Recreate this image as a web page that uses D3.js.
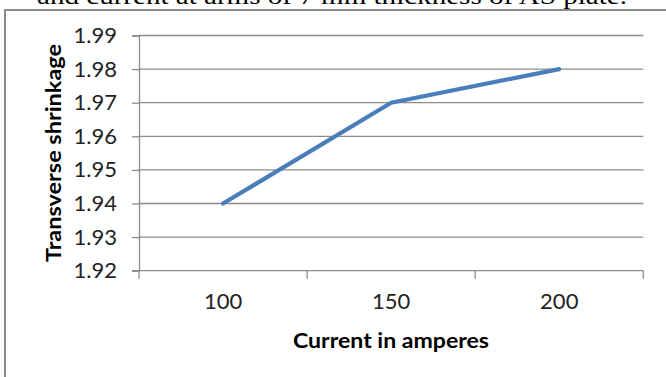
<!DOCTYPE html>
<html>
<head>
<meta charset="utf-8">
<script src="https://cdn.jsdelivr.net/npm/d3@7"></script>
<style>
  html, body { margin: 0; padding: 0; background: #fff; }
  svg { display: block; }
</style>
</head>
<body>
<svg id="chart" width="666" height="377"></svg>
<script>
const categories = ["100", "150", "200"];
const shrinkage = [1.94, 1.97, 1.98];
const yTicks = [1.92, 1.93, 1.94, 1.95, 1.96, 1.97, 1.98, 1.99];
const captionText = "and current at arms of 7 mm thickness of AS plate.";
const xTitle = "Current in amperes";
const yTitle = "Transverse shrinkage";

const svg = d3.select("#chart");
const W = 666, H = 377;
const plot = { left: 139, right: 643.3, top: 35.5, bottom: 270.7 };
const gridColor = "#8c8c8c";
const lineColor = "#4a7ebb";
const sans = "Lato, 'Open Sans', sans-serif";

svg.append("rect").attr("width", W).attr("height", H).attr("fill", "#fff");

// caption (cut off at top, as in the source)
svg.append("text")
  .attr("x", 37).attr("y", 4)
  .attr("font-family", "'Liberation Serif', 'Times New Roman', serif")
  .attr("font-size", 24)
  .attr("fill", "#000")
  .attr("textLength", 590).attr("lengthAdjust", "spacingAndGlyphs")
  .text(captionText);

// chart area border (top + left)
svg.append("line").attr("x1", 4).attr("x2", W).attr("y1", 10).attr("y2", 10)
  .attr("stroke", "#8a8a8a").attr("stroke-width", 2);
svg.append("line").attr("x1", 5).attr("x2", 5).attr("y1", 9).attr("y2", H)
  .attr("stroke", "#8a8a8a").attr("stroke-width", 2);

const x = d3.scaleBand().domain(categories).range([plot.left, plot.right]).paddingInner(0).paddingOuter(0);
const y = d3.scaleLinear().domain([1.92, 1.99]).range([plot.bottom, plot.top]);

// gridlines
svg.append("g").selectAll("line").data(yTicks.filter(d => d > 1.92)).join("line")
  .attr("x1", plot.left).attr("x2", plot.right)
  .attr("y1", d => y(d)).attr("y2", d => y(d))
  .attr("stroke", gridColor).attr("stroke-width", 1.3);

// y axis
const yAxis = svg.append("g").attr("transform", `translate(${plot.left},0)`)
  .call(d3.axisLeft(y).tickValues(yTicks).tickFormat(d3.format(".2f")).tickSize(7).tickPadding(15));
yAxis.select(".domain").attr("stroke", gridColor).attr("stroke-width", 1.3);
yAxis.selectAll(".tick line").attr("stroke", gridColor).attr("stroke-width", 1.3);
yAxis.selectAll("text").attr("font-family", sans).attr("font-size", 22).attr("fill", "#222");

// x axis
const xAxis = svg.append("g").attr("transform", `translate(0,${plot.bottom})`)
  .call(d3.axisBottom(x).tickSize(0).tickPadding(23));
xAxis.select(".domain").remove();
svg.append("line").attr("x1", plot.left - 7).attr("x2", plot.right)
  .attr("y1", plot.bottom).attr("y2", plot.bottom)
  .attr("stroke", gridColor).attr("stroke-width", 1.3);
const boundaries = categories.map(c => x(c)).concat([x(categories[categories.length - 1]) + x.bandwidth()]);
svg.append("g").selectAll("line").data(boundaries).join("line")
  .attr("x1", d => d).attr("x2", d => d)
  .attr("y1", plot.bottom).attr("y2", plot.bottom + 8)
  .attr("stroke", gridColor).attr("stroke-width", 1.3);
xAxis.selectAll("text").attr("font-family", sans).attr("font-size", 22).attr("fill", "#222");

// line
const line = d3.line().x((d, i) => x(categories[i]) + x.bandwidth() / 2).y(d => y(d));
svg.append("path").datum(shrinkage)
  .attr("d", line)
  .attr("fill", "none").attr("stroke", lineColor).attr("stroke-width", 4.2)
  .attr("stroke-linejoin", "round").attr("stroke-linecap", "round");

// titles
svg.append("text")
  .attr("x", 391).attr("y", 348)
  .attr("text-anchor", "middle")
  .attr("font-family", sans).attr("font-size", 21).attr("font-weight", "bold").attr("fill", "#000")
  .attr("textLength", 196).attr("lengthAdjust", "spacingAndGlyphs")
  .text(xTitle);
svg.append("text")
  .attr("transform", "translate(61,153) rotate(-90)")
  .attr("text-anchor", "middle")
  .attr("font-family", sans).attr("font-size", 21).attr("font-weight", "bold").attr("fill", "#000")
  .attr("textLength", 218).attr("lengthAdjust", "spacingAndGlyphs")
  .text(yTitle);
</script>
</body>
</html>
